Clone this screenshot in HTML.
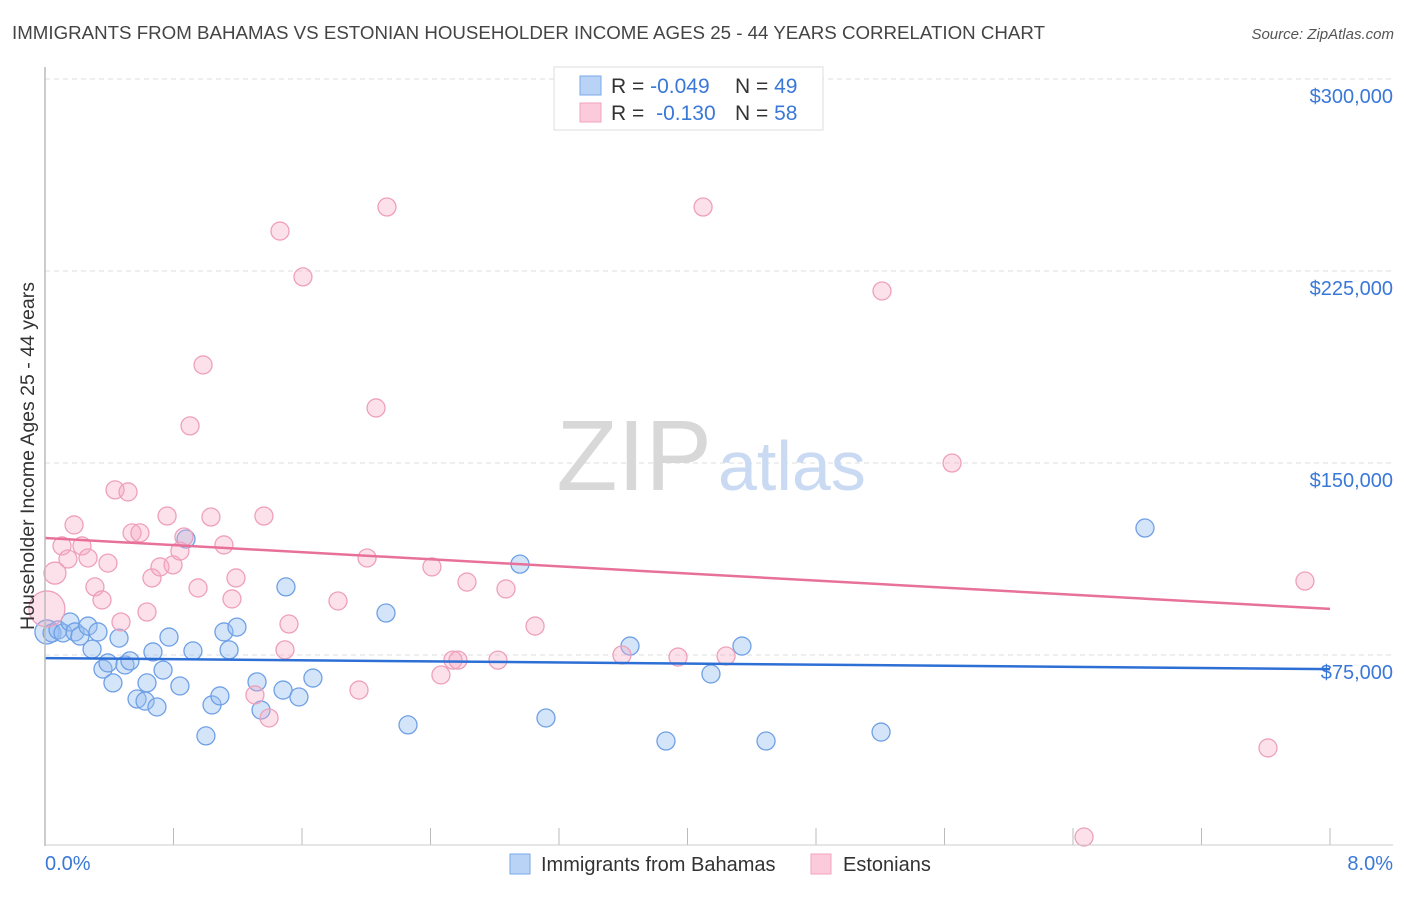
<!DOCTYPE html>
<html><head><meta charset="utf-8"><style>
body{margin:0;background:#fff;font-family:"Liberation Sans",sans-serif;}
svg text{font-family:"Liberation Sans",sans-serif;}
</style></head><body>
<svg id="chart" width="1406" height="892" viewBox="0 0 1406 892">
<text x="12" y="39" font-size="18.5" fill="#444" textLength="1033" lengthAdjust="spacingAndGlyphs">IMMIGRANTS FROM BAHAMAS VS ESTONIAN HOUSEHOLDER INCOME AGES 25 - 44 YEARS CORRELATION CHART</text>
<text x="1394" y="39" font-size="15" fill="#555" font-style="italic" text-anchor="end">Source: ZipAtlas.com</text>
<g id="grid"></g>
<text x="712" y="490" font-size="100" fill="#d8d8d8" font-family="Liberation Serif" text-anchor="end">ZIP</text>
<text x="718" y="490" font-size="70" fill="#c9daf2">atlas</text>
<g id="points"></g>
<g id="trends"></g>
<line x1="45" y1="67" x2="45" y2="846" stroke="#bbb" stroke-width="1.5"/>
<line x1="45" y1="845" x2="1393" y2="845" stroke="#ccc"/>
<text x="45" y="870" font-size="20" fill="#3a78d8">0.0%</text>
<text x="1393" y="870" font-size="20" fill="#3a78d8" text-anchor="end">8.0%</text>
<text transform="translate(34,456) rotate(-90)" font-size="19.5" fill="#333" text-anchor="middle">Householder Income Ages 25 - 44 years</text>
<g>
<rect x="554" y="67" width="269" height="63" fill="#fff" stroke="#ddd"/>
<rect x="580" y="76" width="21" height="19" fill="#b8d3f6" stroke="#7aaae8"/>
<rect x="580" y="103" width="21" height="19" fill="#fccbdb" stroke="#f0a0bc"/>
<text x="611" y="93" font-size="21" fill="#333">R = <tspan fill="#3a78d8">-0.049</tspan></text>
<text x="735" y="93" font-size="21" fill="#333">N = <tspan fill="#3a78d8">49</tspan></text>
<text x="611" y="120" font-size="21" fill="#333">R = <tspan fill="#3a78d8" dx="6">-0.130</tspan></text>
<text x="735" y="120" font-size="21" fill="#333">N = <tspan fill="#3a78d8">58</tspan></text>
</g>
<g>
<rect x="510" y="854" width="20" height="20" fill="#b8d3f6" stroke="#7aaae8"/>
<text x="541" y="871" font-size="20" fill="#333">Immigrants from Bahamas</text>
<rect x="811" y="854" width="20" height="20" fill="#fccbdb" stroke="#f0a0bc"/>
<text x="843" y="871" font-size="20" fill="#333">Estonians</text>
</g>
</svg>
<script>
const yTicks=[75000,150000,225000,300000];
const yTickLabels=["$75,000","$150,000","$225,000","$300,000"];
const xTicks=[0,0.8,1.6,2.4,3.2,4.0,4.8,5.6,6.4,7.2,8.0];
const blueX=[0.012,0.044,0.081,0.112,0.156,0.187,0.218,0.268,0.293,0.330,0.361,0.392,0.423,0.461,0.498,0.529,0.573,0.623,0.635,0.672,0.697,0.735,0.772,0.840,0.878,0.921,1.002,1.040,1.089,1.114,1.146,1.195,1.320,1.345,1.482,1.500,1.581,1.668,2.123,2.260,2.957,3.119,3.642,3.866,4.146,4.339,4.489,5.205,6.848];
const blueY=[84000,83600,84800,83600,87900,84000,82400,86300,77300,84000,69500,71900,64100,81600,71100,72700,57800,57000,64100,76200,54700,69100,82000,62900,120300,76600,43400,55500,59000,84000,77000,85900,64500,53500,61300,101600,58600,66000,91400,47700,110500,50400,78500,41400,67600,78500,41400,44900,124600];
const blueR=[12,9,9,9,9,9,9,9,9,9,9,9,9,9,9,9,9,9,9,9,9,9,9,9,9,9,9,9,9,9,9,9,9,9,9,9,9,9,9,9,9,9,9,9,9,9,9,9,9];
const pinkX=[0.012,0.062,0.106,0.143,0.181,0.230,0.268,0.311,0.355,0.392,0.436,0.473,0.517,0.542,0.591,0.635,0.666,0.716,0.760,0.797,0.840,0.865,0.903,0.953,0.984,1.033,1.114,1.164,1.189,1.307,1.363,1.395,1.463,1.494,1.519,1.606,1.824,1.955,2.005,2.061,2.129,2.409,2.465,2.540,2.571,2.627,2.820,2.870,3.051,3.592,3.941,4.097,4.240,5.211,5.647,6.469,7.614,7.844];
const pinkY=[93000,107000,117600,112500,125800,117600,112900,101600,96500,110900,139500,87900,138700,122700,122700,91800,105100,109400,129300,110200,115600,121100,164500,101200,188300,128900,118000,96900,105100,59400,129300,50400,240600,77000,87100,222700,96100,61300,112900,171500,250000,109400,67200,73000,73000,103500,73000,100800,86300,75000,74200,250000,74600,217200,150000,3900,38700,103900];
const pinkR=[18,11,9,9,9,9,9,9,9,9,9,9,9,9,9,9,9,9,9,9,9,9,9,9,9,9,9,9,9,9,9,9,9,9,9,9,9,9,9,9,9,9,9,9,9,9,9,9,9,9,9,9,9,9,9,9,9,9];
const blueTrend=[73800,69500];
const pinkTrend=[120700,93000];
const NS='http://www.w3.org/2000/svg';
const xs=v=>45+v*(1330-45)/8;
const ys=v=>655-(v-75000)*192/75000;
function mk(tag,attrs,parent){const e=document.createElementNS(NS,tag);for(const k in attrs)e.setAttribute(k,attrs[k]);parent.appendChild(e);return e;}
const grid=document.getElementById('grid');
yTicks.forEach((t,i)=>{
  const l=mk('line',{x1:45,x2:1393,y1:ys(t),y2:ys(t),stroke:'#ddd','stroke-dasharray':'5,4'},grid);
  
  
  const tx=mk('text',{x:1393,y:ys(t)+24,'font-size':20,fill:'#3a78d8','text-anchor':'end'},grid);
  tx.textContent=yTickLabels[i];
  
  
});
xTicks.forEach(t=>{
  const l=mk('line',{x1:xs(t),x2:xs(t),y1:828,y2:845,stroke:'#bbb'},grid);
  
  
});
const pts=document.getElementById('points');
blueX.forEach((x,i)=>{
  const c=mk('circle',{cx:xs(x),cy:ys(blueY[i]),r:blueR[i],fill:'rgba(150,190,240,0.4)',stroke:'#6fa0e6','stroke-width':1.3},pts);
  
  
});
pinkX.forEach((x,i)=>{
  const c=mk('circle',{cx:xs(x),cy:ys(pinkY[i]),r:pinkR[i],fill:'rgba(245,170,195,0.35)',stroke:'#eea0bb','stroke-width':1.3},pts);
  
  
});
const tr=document.getElementById('trends');
const bl=mk('line',{x1:xs(0),y1:ys(blueTrend[0]),x2:xs(8),y2:ys(blueTrend[1]),stroke:'#2e6fd6','stroke-width':2.5},tr);


const pl=mk('line',{x1:xs(0),y1:ys(pinkTrend[0]),x2:xs(8),y2:ys(pinkTrend[1]),stroke:'#e8719a','stroke-width':2.5},tr);


</script>
</body></html>
